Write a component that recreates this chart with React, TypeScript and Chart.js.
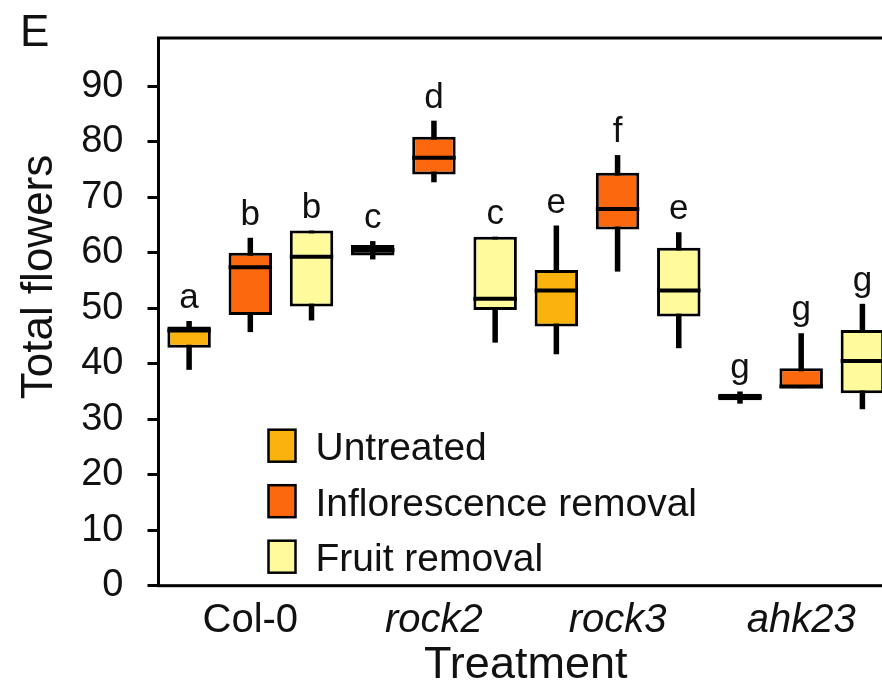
import React, { useEffect, useRef } from 'react';
import { Chart, registerables } from 'chart.js';

Chart.register(...registerables);

// ---- data ----
const groups = ['Col-0', 'rock2', 'rock3', 'ahk23'];
const treatments = ['Untreated', 'Inflorescence removal', 'Fruit removal'];
const treatmentColors = ['#F9B30C', '#FB680E', '#FFFB9C'];
const yTicks = [0, 10, 20, 30, 40, 50, 60, 70, 80, 90];
const yTitle = 'Total flowers';
const xTitle = 'Treatment';
const panelLetter = 'E';

const untreatedMin = [38.9, 58.8, 41.7, 32.8];
const untreatedQ1 = [42.9, 59.5, 46.7, 33.4];
const untreatedMedian = [46.0, 60.5, 53.2, 34.0];
const untreatedQ3 = [46.7, 61.4, 56.9, 34.6];
const untreatedMax = [47.7, 62.1, 64.9, 35.0];
const untreatedLetters = ['a', 'c', 'e', 'g'];

const inflorMin = [45.7, 72.7, 56.6, 35.6];
const inflorQ1 = [48.8, 74.1, 64.2, 35.6];
const inflorMedian = [57.4, 77.1, 67.9, 35.9];
const inflorQ3 = [60.0, 80.9, 74.4, 39.2];
const inflorMax = [62.7, 83.8, 77.6, 45.5];
const inflorLetters = ['b', 'd', 'f', 'g'];

const fruitMin = [47.8, 43.8, 42.8, 31.8];
const fruitQ1 = [50.3, 49.7, 48.5, 34.7];
const fruitMedian = [59.3, 51.7, 53.2, 40.5];
const fruitQ3 = [64.0, 62.9, 60.9, 46.1];
const fruitMax = [64.0, 62.9, 63.7, 50.8];
const fruitLetters = ['b', 'c', 'e', 'g'];

const FONT = "'Liberation Sans', Arial, Helvetica, sans-serif";

const seriesStats = [
  { min: untreatedMin, q1: untreatedQ1, med: untreatedMedian, q3: untreatedQ3, max: untreatedMax, letters: untreatedLetters },
  { min: inflorMin, q1: inflorQ1, med: inflorMedian, q3: inflorQ3, max: inflorMax, letters: inflorLetters },
  { min: fruitMin, q1: fruitQ1, med: fruitMedian, q3: fruitQ3, max: fruitMax, letters: fruitLetters },
];

const boxPlugin = {
  id: 'boxExtras',
  beforeDatasetsDraw(chart: any) {
    const { ctx } = chart;
    const y = chart.scales.y;
    ctx.save();
    ctx.strokeStyle = '#000';
    ctx.lineWidth = 5.5;
    seriesStats.forEach((s, i) => {
      const meta = chart.getDatasetMeta(i);
      meta.data.forEach((bar: any, j: number) => {
        ctx.beginPath();
        ctx.moveTo(bar.x, y.getPixelForValue(s.min[j]));
        ctx.lineTo(bar.x, y.getPixelForValue(s.max[j]));
        ctx.stroke();
      });
    });
    ctx.restore();
  },
  afterDatasetsDraw(chart: any) {
    const { ctx } = chart;
    const y = chart.scales.y;
    ctx.save();
    seriesStats.forEach((s, i) => {
      const meta = chart.getDatasetMeta(i);
      meta.data.forEach((bar: any, j: number) => {
        const half = bar.width / 2;
        const ym = y.getPixelForValue(s.med[j]);
        ctx.strokeStyle = '#000';
        ctx.lineWidth = 4;
        ctx.beginPath();
        ctx.moveTo(bar.x - half, ym);
        ctx.lineTo(bar.x + half, ym);
        ctx.stroke();
        ctx.fillStyle = '#111';
        ctx.font = `35px ${FONT}`;
        ctx.textAlign = 'center';
        ctx.textBaseline = 'alphabetic';
        ctx.fillText(s.letters[j], bar.x, y.getPixelForValue(s.max[j]) - 13);
      });
    });
    ctx.restore();
  },
  afterDraw(chart: any) {
    const { ctx, chartArea } = chart;
    ctx.save();
    // frame
    ctx.strokeStyle = '#000';
    ctx.lineWidth = 3;
    ctx.strokeRect(chartArea.left, chartArea.top, chartArea.right - chartArea.left, chartArea.bottom - chartArea.top);
    // legend
    const lx = chartArea.left + 110;
    const ly0 = chartArea.bottom - 156;
    treatments.forEach((t, k) => {
      const top = ly0 + k * 55.5;
      ctx.fillStyle = treatmentColors[k];
      ctx.fillRect(lx, top, 27, 32);
      ctx.lineWidth = 2.5;
      ctx.strokeStyle = '#000';
      ctx.strokeRect(lx, top, 27, 32);
      ctx.fillStyle = '#111';
      ctx.font = `39px ${FONT}`;
      ctx.textAlign = 'left';
      ctx.textBaseline = 'alphabetic';
      ctx.fillText(t, lx + 47, top + 30.5);
    });
    // y title
    ctx.save();
    ctx.translate(52, 277);
    ctx.rotate(-Math.PI / 2);
    ctx.fillStyle = '#111';
    ctx.font = `44px ${FONT}`;
    ctx.textAlign = 'center';
    ctx.textBaseline = 'alphabetic';
    ctx.fillText(yTitle, 0, 0);
    ctx.restore();
    // panel letter
    ctx.fillStyle = '#111';
    ctx.font = `44px ${FONT}`;
    ctx.textAlign = 'left';
    ctx.textBaseline = 'alphabetic';
    ctx.fillText(panelLetter, 20, 46);
    ctx.restore();
  },
};

export default function App() {
  const ref = useRef<HTMLCanvasElement | null>(null);
  useEffect(() => {
    if (!ref.current) return;
    const chart = new Chart(ref.current, {
      type: 'bar',
      data: {
        labels: groups,
        datasets: treatments.map((t, i) => ({
          label: t,
          data: seriesStats[i].q1.map((v, j) => [v, seriesStats[i].q3[j]]),
          // very narrow boxes are drawn solid black, as in the source figure
          backgroundColor: (c: any) => {
            const s = seriesStats[i];
            const k = c.dataIndex;
            return k !== undefined && s.q3[k] - s.q1[k] < 2.5 ? '#000' : treatmentColors[i];
          },
          borderColor: '#000',
          borderWidth: 3,
          borderSkipped: false,
          barPercentage: 0.71,
          categoryPercentage: 1.0,
        })),
      },
      options: {
        animation: false,
        responsive: false,
        layout: { padding: { left: 0, right: 7, top: 38, bottom: 0 } },
        plugins: { legend: { display: false }, tooltip: { enabled: false } },
        scales: {
          x: {
            grid: { display: false, drawTicks: false },
            border: { display: false },
            afterFit: (axis: any) => { axis.height = 114.3; axis.paddingLeft = 0; axis.paddingRight = 0; },
            ticks: {
              color: '#111',
              padding: 11,
              maxRotation: 0,
              font: (c: any) => ({ family: FONT, size: 40, style: c.index > 0 ? 'italic' : 'normal' }),
            },
            title: { display: true, text: xTitle, color: '#111', font: { family: FONT, size: 45 }, padding: { top: 0, bottom: 7 } },
          },
          y: {
            min: 0,
            max: 98.7,
            afterFit: (axis: any) => { axis.width = 158.5; axis.paddingTop = 0; axis.paddingBottom = 0; },
            afterBuildTicks: (axis: any) => { axis.ticks = yTicks.map((v) => ({ value: v })); },
            grid: { drawOnChartArea: false, drawTicks: true, tickLength: 11, lineWidth: 3, color: '#000' },
            border: { display: false },
            ticks: { color: '#111', padding: 24, font: { family: FONT, size: 38 } },
          },
        },
      },
      plugins: [boxPlugin],
    });
    return () => chart.destroy();
  }, []);
  return (
    <div style={{ position: 'fixed', left: 0, top: 0, width: 882, height: 688, overflow: 'hidden', background: '#fff' }}>
      <canvas ref={ref} width={900} height={700} style={{ width: 900, height: 700, display: 'block' }} />
    </div>
  );
}
